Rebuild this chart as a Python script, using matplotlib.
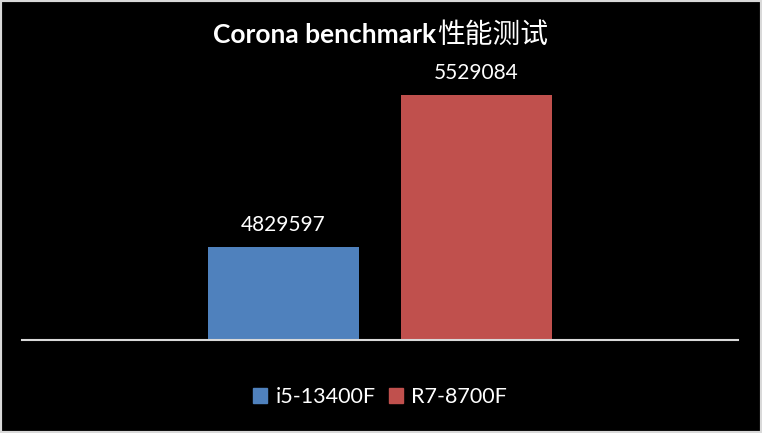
import matplotlib
matplotlib.use("Agg")
import matplotlib.pyplot as plt
from matplotlib.patches import Rectangle, Patch

title_latin = "Corona benchmark"
title_cjk = "性能测试"
series = ["i5-13400F", "R7-8700F"]
values = [4829597, 5529084]
colors = ["#4F81BD", "#C0504D"]

W, H = 762, 433
fig = plt.figure(figsize=(W/100, H/100), dpi=100, facecolor="black")

def px(x0, y0, x1, y1):
    return [x0/W, 1 - y1/H, (x1-x0)/W, (y1-y0)/H]

ax = fig.add_axes(px(22, 36, 738, 340))
ax.set_facecolor("black")
fam = ["Lato", "Noto Sans CJK SC", "DejaVu Sans"]

width = 151/193
pos = [-0.5, 0.5]
bars = ax.bar(pos, values, width=width, color=colors, bottom=0)
ax.set_xlim(-358/193, 358/193)
ax.set_ylim(4400000, 5800000)
for b, v in zip(bars, values):
    ax.text(b.get_x() + b.get_width()/2, v + 55000, str(v), ha="center", va="bottom",
            color="white", fontsize=15, family=fam)
for s in ["left", "right", "top"]:
    ax.spines[s].set_visible(False)
ax.spines["bottom"].set_color("#D9D9D9")
ax.spines["bottom"].set_linewidth(1.5)
ax.set_xticks([])
ax.set_yticks([])

fig.text(436/W, 1 - 35/H, title_latin, ha="right", va="center", color="white",
         fontsize=19, fontweight="bold", family=fam)
fig.text(437/W, 1 - 35/H, title_cjk, ha="left", va="center", color="white",
         fontsize=20, family=["Noto Sans CJK SC", "DejaVu Sans"])

handles = [Patch(facecolor=c, edgecolor=c) for c in colors]
leg = fig.legend(handles, series, loc="center", bbox_to_anchor=(380/W, 1 - 397/H),
                 ncol=2, frameon=False, prop={"family": fam, "size": 15.5},
                 handlelength=0.65, handleheight=0.65, handletextpad=0.4, columnspacing=0.6)
for t in leg.get_texts():
    t.set_color("white")

fig.patches.append(Rectangle((0, 0), 1, 1, transform=fig.transFigure, fill=False,
                             edgecolor="#D9D9D9", linewidth=3))
fig.savefig("out.png", dpi=100, facecolor="black")
